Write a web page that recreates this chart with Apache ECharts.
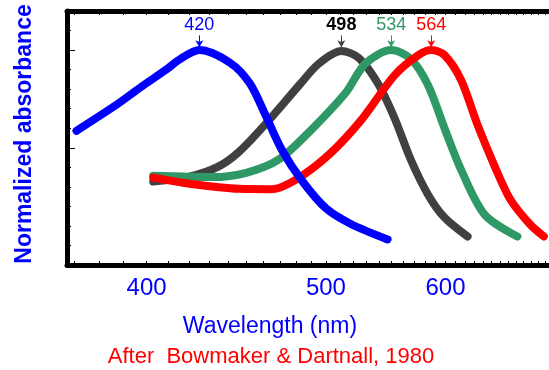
<!DOCTYPE html>
<html>
<head>
<meta charset="utf-8">
<script src="https://cdn.jsdelivr.net/npm/echarts@6/dist/echarts.min.js"></script>
<style>html,body{margin:0;padding:0;background:#fff;}#c{width:549px;height:370px;}</style>
</head>
<body>
<div id="c"></div>
<script>
// Wavelength (nm) and normalized absorbance
const blueNm   = [371, 387, 398, 409, 415, 425, 441, 452, 461, 471, 484, 500, 518, 547];
const blueAbs  = [0.587, 0.720, 0.815, 0.900, 0.950, 1.0, 0.935, 0.830, 0.670, 0.490, 0.330, 0.190, 0.110, 0.031];
const rodNm    = [403, 420, 435, 446, 461, 482, 495, 511, 524, 539, 553, 567, 583, 599, 623];
const rodAbs   = [0.327, 0.352, 0.405, 0.480, 0.620, 0.820, 0.930, 0.995, 0.960, 0.830, 0.650, 0.440, 0.260, 0.143, 0.046];
const greenNm  = [403, 420, 432, 450, 469, 490, 514, 529, 550, 567, 583, 599, 616, 642, 682];
const greenAbs = [0.357, 0.352, 0.350, 0.372, 0.439, 0.592, 0.780, 0.930, 1.0, 0.955, 0.820, 0.600, 0.388, 0.158, 0.046];
const redNm    = [403, 420, 446, 465, 480, 502, 526, 553, 574, 586, 599, 616, 634, 653, 673, 699, 718];
const redAbs   = [0.347, 0.316, 0.290, 0.288, 0.337, 0.464, 0.643, 0.872, 0.974, 1.0, 0.974, 0.847, 0.617, 0.413, 0.235, 0.107, 0.046];
const peakNm   = [425, 511, 550, 586];
const peakText = ['420', '498', '534', '564'];
const xLabelNm = [400, 500, 600];
const xTickNm  = [370,380,390,400,410,420,430,440,450,460,470,480,490,500,510,520,530,540,550,560,570,580,590,600,610,620,630,640,650,660,670,680,690,700,710,720];
const xRangeNm = [367.4, 725.6];

const toW = nm => 1e7 / nm;   // wavenumber (cm^-1): axis is linear in 1/λ
const pts = (nm, a) => nm.map((v, i) => [toW(v), a[i]]);
const FONT = 'Liberation Sans, Arial, sans-serif';

const colors = ['#404040', '#2f9966', '#ff0000', '#0000ff'];
const seriesData = [pts(rodNm, rodAbs), pts(greenNm, greenAbs), pts(redNm, redAbs), pts(blueNm, blueAbs)];
const peakIdx = [1, 2, 3, 0];

const chart = echarts.init(document.getElementById('c'), null, {renderer: 'canvas'});
const axisLine = {show: true, onZero: false, lineStyle: {color: '#000', width: 5}};
const xBase = {
  type: 'value', inverse: true, min: toW(xRangeNm[1]), max: toW(xRangeNm[0]),
  splitLine: {show: false}, axisLine: axisLine,
  axisTick: {show: true, inside: true, length: 4, customValues: xTickNm.map(toW), lineStyle: {color: '#000', width: 1}}
};
chart.setOption({
  animation: false,
  grid: {left: 67, right: -3, top: 11, bottom: 105, containLabel: false},
  xAxis: [
    Object.assign({}, xBase, {position: 'bottom',
      axisLabel: {show: true, customValues: xLabelNm.map(toW), formatter: v => String(Math.round(1e7 / v)),
        color: '#0000ff', fontSize: 24, fontFamily: FONT, margin: 11}}),
    Object.assign({}, xBase, {position: 'top', axisLabel: {show: false}})
  ],
  yAxis: [
    {type: 'value', min: -0.1, max: 1.2, interval: 0.1, position: 'left',
     splitLine: {show: false}, axisLine: axisLine, axisLabel: {show: false},
     axisTick: {show: true, inside: true, length: 4, lineStyle: {color: '#000', width: 1}}},
    {type: 'value', min: -0.1, max: 1.2, position: 'left', offset: 0,
     splitLine: {show: false}, axisLine: {show: false}, axisLabel: {show: false},
     axisTick: {show: true, inside: true, length: 8, customValues: [0.5, 1.0], lineStyle: {color: '#000', width: 1}}}
  ],
  series: seriesData.map((d, i) => ({
    type: 'line', data: d, smooth: 0.3, symbol: 'none', z: 2 + i,
    lineStyle: {color: colors[i], width: 8, cap: 'round', join: 'round'},
    markLine: {
      silent: true, symbolSize: [6, 7],
      lineStyle: {color: colors[i], width: 1, type: 'solid'},
      label: {show: true, position: 'start', distance: 1, formatter: peakText[peakIdx[i]],
        color: i === 0 ? '#000' : colors[i], fontSize: 18, fontFamily: FONT, fontWeight: i === 0 ? 'bold' : 'normal'},
      data: [[{coord: [toW(peakNm[peakIdx[i]]), 1.075], symbol: 'none'},
              {coord: [toW(peakNm[peakIdx[i]]), 1.015], symbol: 'arrow'}]]
    }
  })),
  graphic: [
    {type: 'text', x: 25, y: 134, rotation: Math.PI / 2,
     style: {text: 'Normalized absorbance', fill: '#0000ff', font: 'bold 23px ' + FONT, align: 'center', verticalAlign: 'middle'}},
    {type: 'text', x: 270, y: 327,
     style: {text: 'Wavelength (nm)', fill: '#0000ff', font: '23px ' + FONT, align: 'center', verticalAlign: 'middle'}},
    {type: 'text', x: 271, y: 357,
     style: {text: 'After  Bowmaker & Dartnall, 1980', fill: '#ff0000', font: '22px ' + FONT, align: 'center', verticalAlign: 'middle'}}
  ]
});
</script>
</body>
</html>
